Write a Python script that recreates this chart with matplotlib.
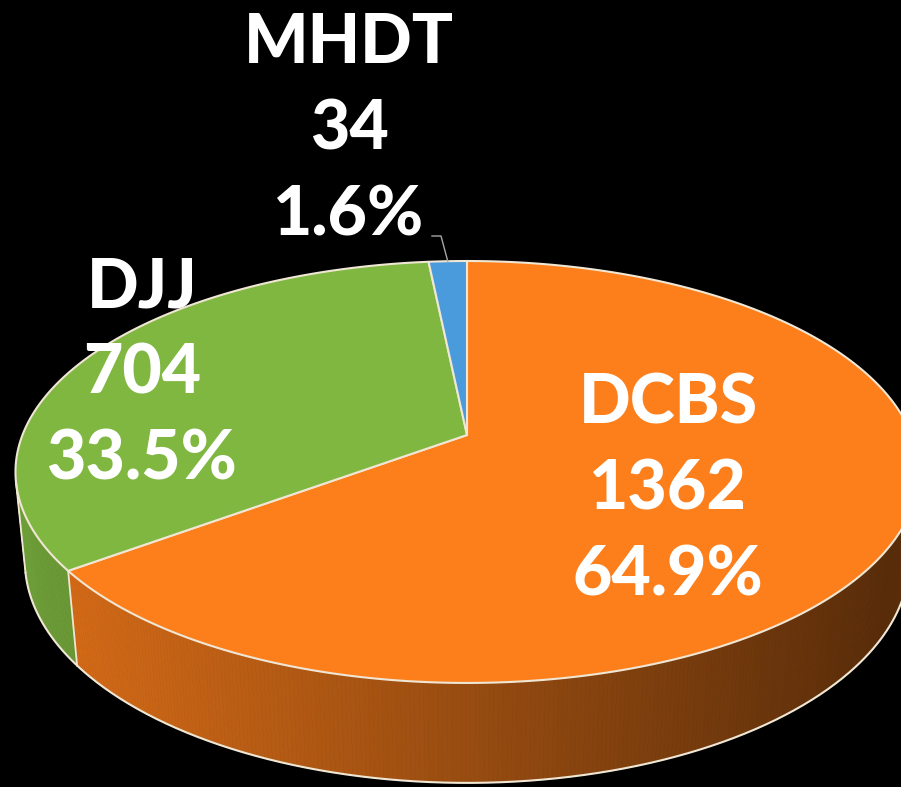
import numpy as np
import matplotlib.pyplot as plt
from matplotlib.patches import Polygon
from matplotlib.collections import PolyCollection

# Data
names = ["DCBS", "DJJ", "MHDT"]
values = [1362, 704, 34]
colors = ["#FD7F1C", "#7FB741", "#4A9BDC"]

# camera / layout (pixel space)
SIN_E = 0.46
COS_E = np.sqrt(1 - SIN_E ** 2)
DIST = 5.066
FOC = 2252
CX, CY = 467, 435
THICK = 0.227
EDGE = "#EFE6D4"


def project(phi, z=0.0):
    X = np.cos(phi)
    Y = np.sin(phi)
    depth = DIST + Y * COS_E - z * SIN_E
    sx = CX + FOC * X / depth
    sy = CY - FOC * (Y * SIN_E + z * COS_E) / depth
    return sx, sy


def shade(col, x):
    f = np.interp(x, [20, 900], [0.86, 0.35])
    rgb = np.array(plt.matplotlib.colors.to_rgb(col))
    return tuple(rgb * f)


vals = np.array(values, dtype=float)
frac = vals / vals.sum()
bounds = np.radians(90 - 360 * np.concatenate([[0], np.cumsum(frac)]))

fig = plt.figure(figsize=(9.01, 7.87), dpi=100, facecolor="black")
ax = fig.add_axes([0, 0, 1, 1])
ax.set_facecolor("black")
ax.set_xlim(0, 901)
ax.set_ylim(787, 0)
ax.axis("off")

# visible part of the side wall
phi_sil = np.arcsin(-1 / (DIST * COS_E))
vis_lo = -np.pi - phi_sil
vis_hi = phi_sil

# ===============================
# Side wall with gradient
# ===============================
for i in range(len(values)):
    a0, a1 = bounds[i + 1], bounds[i]
    lo, hi = max(a0, vis_lo), min(a1, vis_hi)
    if lo >= hi:
        continue
    ph = np.linspace(lo, hi, int(np.degrees(hi - lo) * 2) + 2)
    tx, ty = project(ph)
    bx, by = project(ph, -THICK)
    quads, fcs = [], []
    for k in range(len(ph) - 1):
        quads.append([(tx[k], ty[k]), (tx[k + 1], ty[k + 1]),
                      (bx[k + 1], by[k + 1]), (bx[k], by[k])])
        fcs.append(shade(colors[i], (tx[k] + tx[k + 1]) / 2))
    ax.add_collection(PolyCollection(quads, facecolors=fcs, edgecolors=fcs, linewidths=0.6))

# wall outlines
ph = np.linspace(vis_lo, vis_hi, 400)
bx, by = project(ph, -THICK)
ax.plot(bx, by, color=EDGE, lw=1.5)
for a in [vis_lo, vis_hi] + [b for b in bounds if vis_lo < b < vis_hi]:
    x0, y0 = project(a)
    x1, y1 = project(a, -THICK)
    ax.plot([x0, x1], [y0, y1], color=EDGE, lw=1.3)

# ===============================
# Top face wedges
# ===============================
for i in range(len(values)):
    ph = np.linspace(bounds[i], bounds[i + 1], 300)
    tx, ty = project(ph)
    pts = np.column_stack([np.r_[CX, tx], np.r_[CY, ty]])
    ax.add_patch(Polygon(pts, closed=True, facecolor=colors[i], edgecolor=EDGE, lw=1.5, joinstyle="round"))

# ===============================
# Labels
# ===============================
font = dict(color="white", fontsize=49, fontweight="black", family="Lato", ha="center", va="baseline")
label_pos = [(668, [424, 510, 596]), (142, [307, 394, 480]), (349, [63, 149, 235])]
for i, (x, ys) in enumerate(label_pos):
    lines = [names[i], str(values[i]), f"{frac[i] * 100:.1f}%"]
    for s, y in zip(lines, ys):
        ax.text(x, y, s, **font)

# leader line for the small slice
lx, ly = project((bounds[2] + bounds[3]) / 2)
ax.plot([432, 441, lx], [236, 236, ly], color="#A6A6A6", lw=1)

plt.savefig("out.png", dpi=100, facecolor="black")
plt.close()
